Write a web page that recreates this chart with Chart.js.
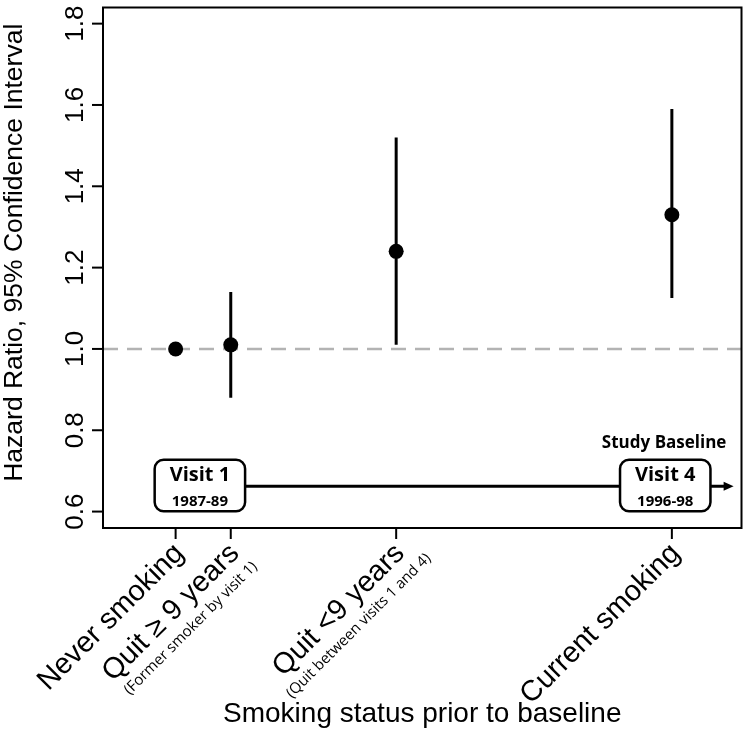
<!DOCTYPE html>
<html><head><meta charset="utf-8">
<script src="https://cdn.jsdelivr.net/npm/chart.js@4"></script>
<style>html,body{margin:0;padding:0;background:#fff}#wrap{width:749px;height:750px}</style>
</head><body><div id="wrap"><canvas id="c" width="749" height="750"></canvas></div>
<script>
// ---- data ----
const categories = ["Never smoking", "Quit \u2265 9 years", "Quit <9 years", "Current smoking"];
const subLabels = ["", "(Former smoker by visit 1)", "(Quit between visits 1 and 4)", ""];
const xPositions = [1, 2, 5, 10];
const hazardRatio = [1.00, 1.01, 1.24, 1.33];
const ciLower = [null, 0.88, 1.01, 1.125];
const ciUpper = [null, 1.14, 1.52, 1.59];
const yTicks = [0.6, 0.8, 1.0, 1.2, 1.4, 1.6, 1.8];
const referenceValue = 1.0;
const yTitle = "Hazard Ratio, 95% Confidence Interval";
const xTitle = "Smoking status prior to baseline";
const visitBoxes = [
  { title: "Visit 1", years: "1987-89" },
  { title: "Visit 4", years: "1996-98" }
];
const baselineLabel = "Study Baseline";

// ---- layout / style (not data) ----
const X_MIN = -0.317, X_MAX = 11.263, Y_MIN = 0.5596, Y_MAX = 1.8397;
const boxGeom = [
  { x0: 0.62, x1: 2.26, y0: 0.601, y1: 0.7275 },
  { x0: 9.06, x1: 10.70, y0: 0.601, y1: 0.7275 }
];
const timelineY = 0.662, arrowEndX = 11.12, baselineLabelPos = { x: 9.86, y: 0.769 };

const SANS = '"Liberation Sans", Arial, sans-serif';
const CAL = '"Open Sans", "Noto Sans", sans-serif';

const datasets = [];
datasets.push({
  type: 'line', label: 'ref',
  data: [{ x: X_MIN, y: referenceValue }, { x: X_MAX, y: referenceValue }],
  borderColor: '#b3b3b3', borderWidth: 2.5, borderDash: [15, 9],
  pointRadius: 0, fill: false, order: 3
});
xPositions.forEach((xv, i) => {
  if (ciLower[i] == null) return;
  datasets.push({
    type: 'line', label: 'ci' + i,
    data: [{ x: xv, y: ciLower[i] }, { x: xv, y: ciUpper[i] }],
    borderColor: '#000', borderWidth: 3, pointRadius: 0, fill: false, order: 2
  });
});
datasets.push({
  type: 'scatter', label: 'HR',
  data: xPositions.map((xv, i) => ({ x: xv, y: hazardRatio[i] })),
  backgroundColor: '#000', borderWidth: 0, pointRadius: 7.5, pointHoverRadius: 7.5, order: 1
});

const decor = {
  id: 'decor',
  afterDraw(chart) {
    const ctx = chart.ctx, a = chart.chartArea;
    const xs = chart.scales.x, ys = chart.scales.y;
    ctx.save();
    ctx.strokeStyle = '#000'; ctx.fillStyle = '#000';
    // frame
    ctx.lineWidth = 2;
    ctx.strokeRect(a.left, a.top, a.right - a.left, a.bottom - a.top);
    // y ticks
    ctx.font = '26px ' + SANS;
    yTicks.forEach(t => {
      const py = ys.getPixelForValue(t);
      ctx.beginPath(); ctx.moveTo(a.left - 11, py); ctx.lineTo(a.left, py); ctx.stroke();
      ctx.save(); ctx.translate(83, py); ctx.rotate(-Math.PI / 2);
      ctx.textAlign = 'center'; ctx.textBaseline = 'alphabetic';
      ctx.fillText(t.toFixed(1), 0, 0); ctx.restore();
    });
    // y title
    ctx.save(); ctx.translate(22, (a.top + a.bottom) / 2 - 15); ctx.rotate(-Math.PI / 2);
    ctx.textAlign = 'center'; ctx.textBaseline = 'alphabetic';
    ctx.font = '26.5px ' + SANS; ctx.fillText(yTitle, 0, 0); ctx.restore();
    // x ticks and labels
    xPositions.forEach((xv, i) => {
      const px = xs.getPixelForValue(xv);
      ctx.beginPath(); ctx.moveTo(px, a.bottom); ctx.lineTo(px, a.bottom + 11); ctx.stroke();
      ctx.save(); ctx.translate(px + 4, a.bottom + 21); ctx.rotate(-Math.PI / 4);
      ctx.textAlign = 'right'; ctx.textBaseline = 'middle';
      ctx.font = '29px ' + SANS;
      const mainW = ctx.measureText(categories[i]).width;
      ctx.fillText(categories[i], 0, 0);
      if (subLabels[i]) {
        ctx.textAlign = 'center';
        ctx.font = '15px ' + CAL;
        ctx.fillText(subLabels[i], -mainW / 2 + 3, 25);
      }
      ctx.restore();
    });
    // x title
    ctx.textAlign = 'center'; ctx.textBaseline = 'alphabetic';
    ctx.font = '28px ' + SANS;
    ctx.fillText(xTitle, (a.left + a.right) / 2, 722);
    // timeline
    const ly = ys.getPixelForValue(timelineY);
    const lx0 = xs.getPixelForValue(boxGeom[0].x1), lx1 = xs.getPixelForValue(arrowEndX);
    ctx.lineWidth = 3;
    ctx.beginPath(); ctx.moveTo(lx0, ly); ctx.lineTo(lx1 - 8, ly); ctx.stroke();
    ctx.beginPath(); ctx.moveTo(lx1, ly); ctx.lineTo(lx1 - 10, ly - 4.5); ctx.lineTo(lx1 - 10, ly + 4.5); ctx.closePath(); ctx.fill();
    boxGeom.forEach((g, i) => {
      const x0 = xs.getPixelForValue(g.x0), x1 = xs.getPixelForValue(g.x1);
      const y0 = ys.getPixelForValue(g.y1), y1 = ys.getPixelForValue(g.y0);
      ctx.beginPath(); ctx.roundRect(x0, y0, x1 - x0, y1 - y0, 9);
      ctx.fillStyle = '#fff'; ctx.fill();
      ctx.lineWidth = 2.5; ctx.strokeStyle = '#000'; ctx.stroke();
      ctx.fillStyle = '#000'; ctx.textAlign = 'center'; ctx.textBaseline = 'middle';
      const cx = (x0 + x1) / 2;
      ctx.font = 'bold 20px ' + CAL; ctx.fillText(visitBoxes[i].title, cx, y0 + 16);
      ctx.font = 'bold 15px ' + CAL; ctx.fillText(visitBoxes[i].years, cx, y0 + 42);
    });
    ctx.font = 'bold 17px ' + CAL; ctx.textAlign = 'center'; ctx.textBaseline = 'middle';
    ctx.fillText(baselineLabel, xs.getPixelForValue(baselineLabelPos.x), ys.getPixelForValue(baselineLabelPos.y));
    ctx.restore();
  }
};

new Chart(document.getElementById('c'), {
  type: 'scatter',
  data: { datasets },
  options: {
    responsive: false, animation: false,
    layout: { padding: { left: 103, top: 2, right: 4, bottom: 222 } },
    plugins: { legend: { display: false }, tooltip: { enabled: false } },
    scales: {
      x: { type: 'linear', min: X_MIN, max: X_MAX, display: false },
      y: { type: 'linear', min: Y_MIN, max: Y_MAX, display: false }
    }
  },
  plugins: [decor]
});
</script></body></html>
